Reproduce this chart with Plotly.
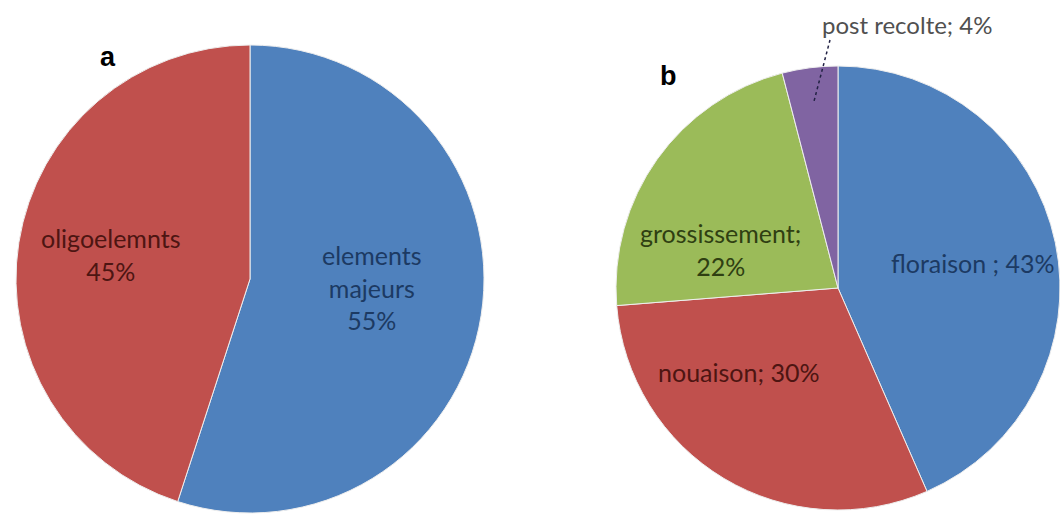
import math
import plotly.graph_objects as go

# Panel a: nutrient groups
labels_a = ["elements majeurs", "oligoelemnts"]
values_a = [55, 45]

# Panel b: application stages
labels_b = ["floraison", "nouaison", "grossissement", "post recolte"]
values_b = [43, 30, 22, 4]

W, H = 1060, 519
FONT = "Lato, 'Open Sans', sans-serif"
FS = 25

blue, red, green, purple = "#4f81bd", "#c0504d", "#9bbb59", "#8064a2"
dark_blue, dark_red, dark_green, grey = "#1c3a63", "#4d1512", "#2f3f12", "#505050"


def px_domain(cx, cy, r):
    return dict(x=[(cx - r) / W, (cx + r) / W],
                y=[(H - cy - r) / H, (H - cy + r) / H])


def label(fig, x, y, text, color, size=FS, xanchor="center"):
    fig.add_annotation(xref="paper", yref="paper", x=x / W, y=1 - y / H,
                       xanchor=xanchor, yanchor="middle", showarrow=False,
                       text=text, font=dict(family=FONT, size=size, color=color))


# pie centres / radii in pixels
ca = (250, 279, 234)
cb = (838, 288, 222)

fig = go.Figure()
fig.add_trace(go.Pie(
    labels=labels_a, values=values_a, sort=False, direction="clockwise",
    rotation=0, domain=px_domain(*ca),
    marker=dict(colors=[blue, red], line=dict(color="#eeeeee", width=1)),
    textinfo="none", showlegend=False, hoverinfo="label+value",
))
fig.add_trace(go.Pie(
    labels=labels_b, values=values_b, sort=False, direction="clockwise",
    rotation=0, domain=px_domain(*cb),
    marker=dict(colors=[blue, red, green, purple], line=dict(color="#eeeeee", width=1)),
    textinfo="none", showlegend=False, hoverinfo="label+value",
))

# slice labels, panel a
maj_words = labels_a[0].split(" ")
label(fig, 372, 288, f"{maj_words[0]}<br>{maj_words[1]}<br>{values_a[0]}%", dark_blue)
label(fig, 110, 254, f"{labels_a[1]}<br>{values_a[1]}%", dark_red)

# slice labels, panel b
label(fig, 973, 263, f"{labels_b[0]} ; {values_b[0]}%", dark_blue)
label(fig, 738, 372, f"{labels_b[1]}; {values_b[1]}%", dark_red)
label(fig, 720, 250, f"{labels_b[2]};<br>{values_b[2]}%", dark_green)
label(fig, 820, 25, f"{labels_b[3]}; {values_b[3]}%", grey, size=24, xanchor="left")

# leader line for the small "post recolte" slice, starting inside its mid-angle
total_b = sum(values_b)
start_frac = sum(values_b[:-1]) / total_b
mid = (start_frac + 1.0) / 2 * 2 * math.pi
cx, cy, r = cb
x0 = cx + 0.85 * r * math.sin(mid)
y0 = cy - 0.85 * r * math.cos(mid)
x1, y1 = 830, 40
fig.add_shape(type="line", xref="paper", yref="paper",
              x0=x0 / W, y0=1 - y0 / H, x1=x1 / W, y1=1 - y1 / H,
              line=dict(color="#222244", width=1.5, dash="dot"))

# panel letters
fig.add_annotation(xref="paper", yref="paper", x=98 / W, y=1 - 40 / H,
                   showarrow=False, text="<b>a</b>",
                   font=dict(family="Arial", size=27, color="black"))
fig.add_annotation(xref="paper", yref="paper", x=668 / W, y=1 - 59 / H,
                   showarrow=False, text="<b>b</b>",
                   font=dict(family="Arial", size=27, color="black"))

fig.update_layout(width=W, height=H, margin=dict(l=0, r=0, t=0, b=0),
                  paper_bgcolor="white", plot_bgcolor="white")
fig.write_html("out.html")
